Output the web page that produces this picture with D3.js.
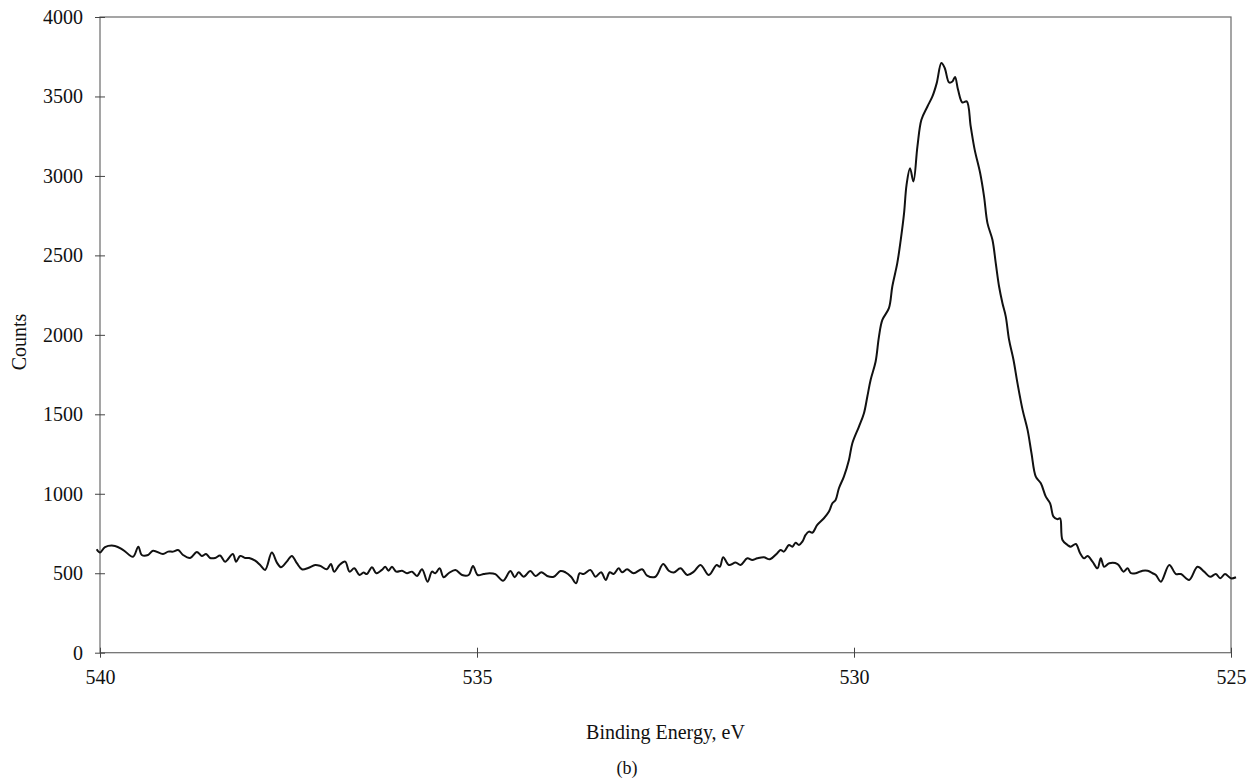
<!DOCTYPE html>
<html>
<head>
<meta charset="utf-8">
<script src="https://cdn.jsdelivr.net/npm/d3@7"></script>
<style>
  body { margin: 0; background: #fff; }
  svg text { font-family: "Liberation Serif", "DejaVu Serif", serif; fill: #111; }
</style>
</head>
<body>
<svg width="1249" height="782"></svg>
<script>
// binding energy (eV)
var energy = [540.044, 540.00, 539.934, 539.801, 539.691, 539.562, 539.492, 539.446, 539.363, 539.296,
  539.164, 539.097, 539.031, 538.965, 538.898, 538.805, 538.716, 538.650, 538.593, 538.540,
  538.473, 538.407, 538.341, 538.238, 538.195, 538.141, 538.075, 538.022, 537.942, 537.876,
  537.810, 537.721, 537.654, 537.601, 537.523, 537.456, 537.389, 537.322, 537.239, 537.146,
  537.080, 536.991, 536.938, 536.894, 536.824, 536.748, 536.691, 536.628, 536.558, 536.505,
  536.460, 536.393, 536.336, 536.261, 536.217, 536.173, 536.128, 536.071, 535.995, 535.929,
  535.862, 535.796, 535.729, 535.656, 535.597, 535.553, 535.496, 535.443, 535.376, 535.287,
  535.198, 535.111, 535.053, 534.991, 534.912, 534.832, 534.756, 534.654, 534.557, 534.500,
  534.447, 534.381, 534.292, 534.225, 534.146, 534.070, 533.982, 533.894, 533.827, 533.753,
  533.686, 533.638, 533.585, 533.495, 533.429, 533.354, 533.293, 533.240, 533.187, 533.121,
  533.076, 533.009, 532.922, 532.810, 532.744, 532.633, 532.531, 532.457, 532.391, 532.301,
  532.212, 532.124, 532.035, 531.925, 531.822, 531.779, 531.735, 531.659, 531.570, 531.504,
  531.415, 531.350, 531.283, 531.195, 531.116, 531.018, 530.973, 530.929, 530.863, 530.818,
  530.774, 530.730, 530.685, 530.642, 530.598, 530.553, 530.487, 530.399, 530.332, 530.287,
  530.244, 530.200, 530.134, 530.067, 530.022, 529.934, 529.868, 529.823, 529.779, 529.713,
  529.669, 529.624, 529.537, 529.492, 529.426, 529.380, 529.336, 529.303, 529.257, 529.212,
  529.159, 529.106, 529.026, 528.960, 528.903, 528.841, 528.797, 528.739, 528.695, 528.660,
  528.620, 528.562, 528.505, 528.452, 528.399, 528.327, 528.275, 528.230, 528.164, 528.120,
  528.076, 528.031, 527.987, 527.943, 527.885, 527.832, 527.764, 527.698, 527.646, 527.589,
  527.522, 527.456, 527.399, 527.354, 527.301, 527.267, 527.235, 527.169, 527.125, 527.058,
  527.001, 526.948, 526.903, 526.837, 526.771, 526.727, 526.683, 526.615, 526.504, 526.425,
  526.372, 526.327, 526.261, 526.173, 526.106, 526.040, 525.996, 525.930, 525.819, 525.730,
  525.664, 525.555, 525.444, 525.356, 525.276, 525.201, 525.142, 525.080, 525.000, 524.934];

// counts at each energy
var counts = [651, 630, 664, 672, 646, 604, 667, 615, 615, 642,
  621, 636, 636, 646, 615, 596, 634, 609, 621, 596,
  596, 611, 573, 621, 573, 609, 596, 596, 579, 552,
  521, 630, 567, 538, 573, 609, 563, 525, 533, 552,
  546, 525, 558, 510, 552, 573, 510, 531, 489, 504,
  495, 538, 500, 521, 541, 516, 541, 510, 516, 500,
  510, 483, 525, 447, 510, 500, 531, 475, 500, 521,
  489, 489, 546, 489, 495, 500, 494, 453, 514, 475,
  506, 478, 514, 483, 506, 483, 478, 514, 506, 478,
  437, 500, 495, 521, 478, 506, 458, 506, 495, 531,
  506, 525, 500, 525, 485, 478, 558, 516, 504, 531,
  489, 510, 552, 489, 552, 541, 601, 552, 567, 552,
  594, 584, 594, 601, 588, 626, 646, 636, 678, 667,
  692, 678, 699, 741, 762, 755, 804, 846, 888, 940,
  961, 1035, 1108, 1213, 1318, 1423, 1507, 1612, 1717, 1832,
  1989, 2094, 2168, 2304, 2451, 2598, 2766, 2944, 3049, 2965,
  3185, 3353, 3437, 3500, 3584, 3710, 3679, 3588, 3594, 3622,
  3542, 3462, 3469, 3311, 3164, 3018, 2870, 2703, 2598, 2451,
  2304, 2199, 2115, 1968, 1843, 1696, 1528, 1402, 1255, 1108,
  1066, 982, 940, 856, 840, 846, 709, 678, 667, 684,
  626, 594, 609, 573, 531, 594, 541, 563, 558, 510,
  531, 500, 500, 516, 516, 500, 489, 447, 552, 495,
  495, 458, 541, 510, 478, 495, 468, 495, 468, 475];

var xTicks = [540, 535, 530, 525];
var yTicks = [0, 500, 1000, 1500, 2000, 2500, 3000, 3500, 4000];

function main() {
    var svg = d3.select("svg"),
        plotLeft = 100, plotRight = 1231, plotTop = 17, plotBottom = 652.7;

    var x = d3.scaleLinear().domain([540, 525]).range([plotLeft, plotRight]);
    var y = d3.scaleLinear().domain([0, 4000]).range([plotBottom, plotTop]);

    var data = energy.map(function(e, i) { return {e: e, c: counts[i]}; });

    // frame
    svg.append("rect")
        .attr("x", plotLeft).attr("y", plotTop)
        .attr("width", plotRight - plotLeft).attr("height", plotBottom - plotTop)
        .attr("fill", "none").attr("stroke", "#6a6a6a").attr("stroke-width", 1.2);

    // y axis, ticks cross the frame
    var gy = svg.append("g").attr("transform", "translate(" + plotLeft + ",0)")
        .call(d3.axisLeft(y).tickValues(yTicks).tickFormat(d3.format("d"))
            .tickSize(5).tickPadding(12));
    gy.select(".domain").remove();
    gy.selectAll(".tick line").attr("x1", -5).attr("x2", 5).attr("stroke", "#444");
    gy.selectAll(".tick text").attr("font-size", "20px")
        .attr("font-family", "Liberation Serif").attr("fill", "#111");

    // x axis
    var gx = svg.append("g").attr("transform", "translate(0," + plotBottom + ")")
        .call(d3.axisBottom(x).tickValues(xTicks).tickFormat(d3.format("d"))
            .tickSize(5).tickPadding(12));
    gx.select(".domain").remove();
    gx.selectAll(".tick line").attr("y1", -5).attr("y2", 5).attr("stroke", "#444");
    gx.selectAll(".tick text").attr("font-size", "20px")
        .attr("font-family", "Liberation Serif").attr("fill", "#111");

    // spectrum
    var line = d3.line()
        .x(function(d) { return x(d.e); })
        .y(function(d) { return y(d.c); })
        .curve(d3.curveCatmullRom.alpha(0.5));

    svg.append("path")
        .datum(data)
        .attr("d", line)
        .attr("fill", "none")
        .attr("stroke", "#111")
        .attr("stroke-width", 2)
        .attr("stroke-linejoin", "round");

    // labels
    svg.append("text")
        .attr("x", (plotLeft + plotRight) / 2).attr("y", 739)
        .attr("text-anchor", "middle").attr("font-size", "20px")
        .text("Binding Energy, eV");

    svg.append("text")
        .attr("x", 627).attr("y", 774)
        .attr("text-anchor", "middle").attr("font-size", "18px")
        .text("(b)");

    svg.append("text")
        .attr("transform", "translate(26,342) rotate(-90)")
        .attr("text-anchor", "middle").attr("font-size", "20px")
        .text("Counts");
}
main();
</script>
</body>
</html>
